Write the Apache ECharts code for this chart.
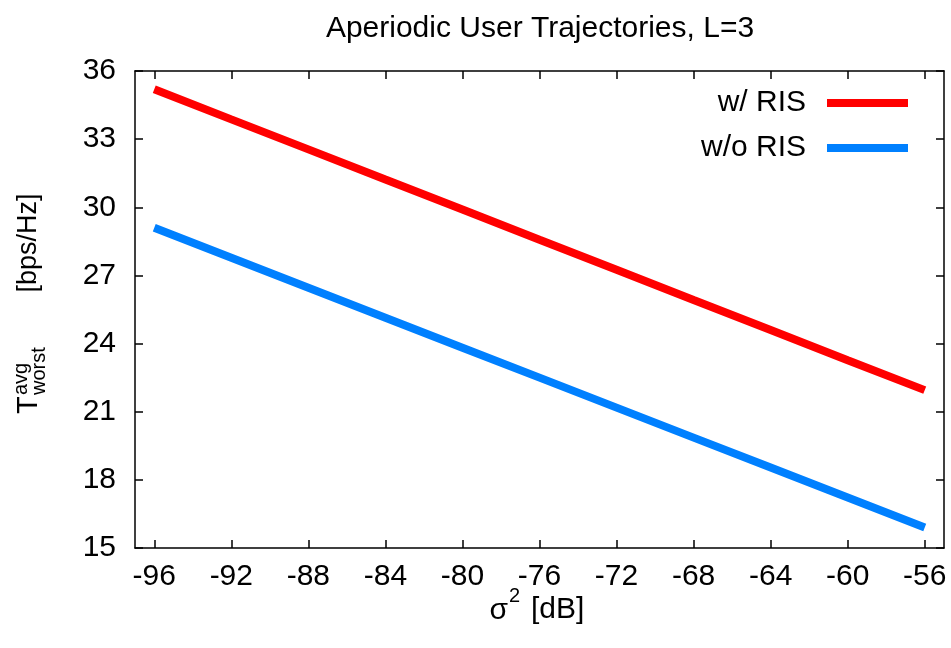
<!DOCTYPE html>
<html>
<head>
<meta charset="utf-8">
<script src="https://cdn.jsdelivr.net/npm/echarts@6/dist/echarts.min.js"></script>
<style>
html,body{margin:0;padding:0;background:#fff;}
#main{width:951px;height:648px;}
</style>
</head>
<body>
<div id="main"></div>
<script>
var titleText = 'Aperiodic User Trajectories, L=3';
var xValues = [-96, -92, -88, -84, -80, -76, -72, -68, -64, -60, -56];
var xTicks = [-96, -92, -88, -84, -80, -76, -72, -68, -64, -60, -56];
var yTicks = [15, 18, 21, 24, 27, 30, 33, 36];
var withRIS = [35.20, 33.87, 32.55, 31.22, 29.90, 28.57, 27.25, 25.92, 24.60, 23.27, 21.95];
var withoutRIS = [29.10, 27.78, 26.46, 25.14, 23.82, 22.50, 21.18, 19.86, 18.54, 17.22, 15.90];
var seriesNames = ['w/ RIS', 'w/o RIS'];
var seriesColors = ['#ff0000', '#0080ff'];

var FONT = 'Liberation Sans';
var chart = echarts.init(document.getElementById('main'));

function pairs(xs, ys) { return xs.map(function (x, i) { return [x, ys[i]]; }); }

var axisLineStyle = { color: '#000', width: 1.5 };
var xBase = {
  type: 'value', min: -97, max: -55,
  axisLine: { show: true, onZero: false, lineStyle: axisLineStyle },
  axisTick: { show: true, inside: true, length: 8, lineStyle: axisLineStyle, customValues: xTicks },
  splitLine: { show: false }
};
var yBase = {
  type: 'value', min: yTicks[0], max: yTicks[yTicks.length - 1], interval: 3,
  axisLine: { show: true, onZero: false, lineStyle: axisLineStyle },
  axisTick: { show: true, inside: true, length: 8, lineStyle: axisLineStyle },
  splitLine: { show: false }
};
var legendText = { fontFamily: FONT, fontSize: 30, color: '#000', padding: [0, 16, 0, 0] };

var option = {
  backgroundColor: '#fff',
  animation: false,
  grid: { left: 135, right: 7, top: 71, bottom: 100 },
  xAxis: [
    Object.assign({}, xBase, {
      position: 'bottom',
      axisLabel: { show: true, customValues: xTicks, color: '#000', fontFamily: FONT, fontSize: 30, margin: 14 }
    }),
    Object.assign({}, xBase, { position: 'top', axisLabel: { show: false } })
  ],
  yAxis: [
    Object.assign({}, yBase, {
      position: 'left',
      axisLabel: { show: true, color: '#000', fontFamily: FONT, fontSize: 30, margin: 19 }
    }),
    Object.assign({}, yBase, { position: 'right', axisLabel: { show: false } })
  ],
  legend: [
    { data: [seriesNames[0]], right: 43, top: 88, padding: 0, align: 'right', icon: 'rect', itemWidth: 81, itemHeight: 8,
      textStyle: legendText },
    { data: [seriesNames[1]], right: 43, top: 133, padding: 0, align: 'right', icon: 'rect', itemWidth: 81, itemHeight: 8,
      textStyle: legendText }
  ],
  series: [
    { name: seriesNames[0], type: 'line', data: pairs(xValues, withRIS), showSymbol: false, symbol: 'none',
      color: seriesColors[0], lineStyle: { width: 8, color: seriesColors[0], cap: 'butt' } },
    { name: seriesNames[1], type: 'line', data: pairs(xValues, withoutRIS), showSymbol: false, symbol: 'none',
      color: seriesColors[1], lineStyle: { width: 8, color: seriesColors[1], cap: 'butt' } }
  ],
  graphic: [
    { type: 'text', x: 540, y: 29, style: { text: titleText, font: '30px "Liberation Sans"', fill: '#000', align: 'center', verticalAlign: 'middle' } },
    { type: 'text', x: 508, y: 611, style: { text: 'σ', font: '30px "Liberation Sans"', fill: '#000', align: 'right', verticalAlign: 'middle' } },
    { type: 'text', x: 509, y: 596, style: { text: '2', font: '20px "Liberation Sans"', fill: '#000', align: 'left', verticalAlign: 'middle' } },
    { type: 'text', x: 531, y: 610, style: { text: '[dB]', font: '30px "Liberation Sans"', fill: '#000', align: 'left', verticalAlign: 'middle' } },
    { type: 'text', x: 29, y: 414, rotation: Math.PI / 2, style: { text: 'T', font: '29px "Liberation Sans"', fill: '#000', align: 'left', verticalAlign: 'middle' } },
    { type: 'text', x: 21, y: 395, rotation: Math.PI / 2, style: { text: 'avg', font: '20px "Liberation Sans"', fill: '#000', align: 'left', verticalAlign: 'middle' } },
    { type: 'text', x: 39, y: 395, rotation: Math.PI / 2, style: { text: 'worst', font: '20px "Liberation Sans"', fill: '#000', align: 'left', verticalAlign: 'middle' } },
    { type: 'text', x: 29, y: 243, rotation: Math.PI / 2, style: { text: '[bps/Hz]', font: '27px "Liberation Sans"', fill: '#000', align: 'center', verticalAlign: 'middle' } }
  ]
};
chart.setOption(option);
</script>
</body>
</html>
